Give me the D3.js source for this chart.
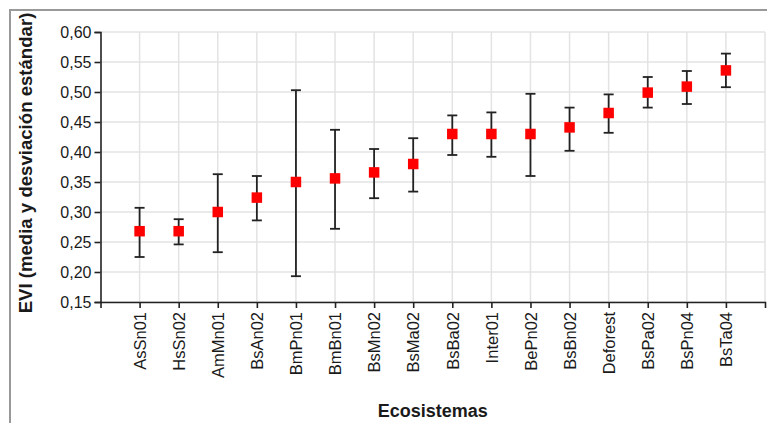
<!DOCTYPE html>
<html>
<head>
<meta charset="utf-8">
<script src="https://cdn.jsdelivr.net/npm/d3@7"></script>
<style>
  html, body { margin: 0; padding: 0; background: #fff; }
  svg { display: block; }
  text { font-family: Arial, "Liberation Sans", sans-serif; fill: #1a1a1a; }
</style>
</head>
<body>
<svg id="chart" width="767" height="423"></svg>
<script>
// Ecosystem codes, ordered by mean EVI
const categories = ["AsSn01","HsSn02","AmMn01","BsAn02","BmPn01","BmBn01","BsMn02","BsMa02",
                    "BsBa02","Inter01","BePn02","BsBn02","Deforest","BsPa02","BsPn04","BsTa04"];
// Mean EVI per ecosystem
const means  = [0.268,0.268,0.300,0.324,0.350,0.356,0.366,0.380,0.430,0.430,0.430,0.441,0.465,0.499,0.509,0.536];
// Upper and lower ends of the standard-deviation bars
const uppers = [0.307,0.288,0.363,0.360,0.503,0.437,0.405,0.423,0.461,0.466,0.497,0.474,0.496,0.525,0.535,0.564];
const lowers = [0.225,0.246,0.233,0.286,0.193,0.272,0.323,0.334,0.395,0.392,0.360,0.402,0.432,0.474,0.480,0.508];
const yTicks = [0.15,0.20,0.25,0.30,0.35,0.40,0.45,0.50,0.55,0.60];

const svg = d3.select("#chart");
const plotL = 100.5, plotR = 765, plotT = 32, plotB = 302;

// outer frame (top and left edges)
svg.append("path")
  .attr("d", `M10,423 V10 H767`)
  .attr("fill", "none").attr("stroke", "#999").attr("stroke-width", 2);

const x = d3.scalePoint().domain(categories).range([plotL, plotR]).padding(1);
const y = d3.scaleLinear().domain([0.15, 0.60]).range([plotB, plotT]);

const fmt = d => d3.format(".2f")(d).replace(".", ",");

// grid
const grid = svg.append("g").attr("stroke", "#e3e3e3").attr("stroke-width", 1.5);
grid.selectAll("line.h").data(yTicks).join("line").attr("class", "h")
  .attr("x1", plotL).attr("x2", plotR).attr("y1", d => y(d)).attr("y2", d => y(d));
grid.selectAll("line.v").data(categories).join("line").attr("class", "v")
  .attr("x1", d => x(d)).attr("x2", d => x(d)).attr("y1", plotT).attr("y2", plotB);
grid.append("line").attr("x1", plotR).attr("x2", plotR).attr("y1", plotT).attr("y2", plotB);

// axes
const yAxis = svg.append("g").attr("transform", `translate(${plotL},0)`)
  .call(d3.axisLeft(y).tickValues(yTicks).tickFormat(fmt).tickSize(6).tickPadding(3));
const xAxis = svg.append("g").attr("transform", `translate(0,${plotB})`)
  .call(d3.axisBottom(x).tickSize(6));

[yAxis, xAxis].forEach(a => {
  a.selectAll("path, line").attr("stroke", "#222").attr("stroke-width", 1.6);
  a.selectAll("text").attr("fill", "#1a1a1a").attr("font-family", null);
});
yAxis.selectAll("text").style("font-size", "16px");
xAxis.selectAll("text")
  .style("font-size", "16.5px")
  .attr("transform", "rotate(-90)")
  .attr("x", -10).attr("y", 0).attr("dy", "0.35em")
  .style("text-anchor", "end");

// error bars
const bars = svg.append("g").attr("stroke", "#222").attr("stroke-width", 1.8);
const capW = 5;
categories.forEach((c, i) => {
  const cx = x(c);
  bars.append("line").attr("x1", cx).attr("x2", cx).attr("y1", y(uppers[i])).attr("y2", y(lowers[i]));
  bars.append("line").attr("x1", cx - capW).attr("x2", cx + capW).attr("y1", y(uppers[i])).attr("y2", y(uppers[i]));
  bars.append("line").attr("x1", cx - capW).attr("x2", cx + capW).attr("y1", y(lowers[i])).attr("y2", y(lowers[i]));
});

// mean markers
const ms = 10.5;
svg.append("g").selectAll("rect").data(categories).join("rect")
  .attr("x", d => x(d) - ms / 2)
  .attr("y", (d, i) => y(means[i]) - ms / 2)
  .attr("width", ms).attr("height", ms)
  .attr("fill", "#ff0000");

// axis titles
svg.append("text")
  .attr("transform", "translate(31.5,163) rotate(-90)")
  .attr("text-anchor", "middle")
  .style("font-size", "18.6px").style("font-weight", "bold")
  .text("EVI (media y desviación estándar)");

svg.append("text")
  .attr("x", (plotL + plotR) / 2).attr("y", 417)
  .attr("text-anchor", "middle")
  .style("font-size", "18px").style("font-weight", "bold")
  .text("Ecosistemas");
</script>
</body>
</html>
